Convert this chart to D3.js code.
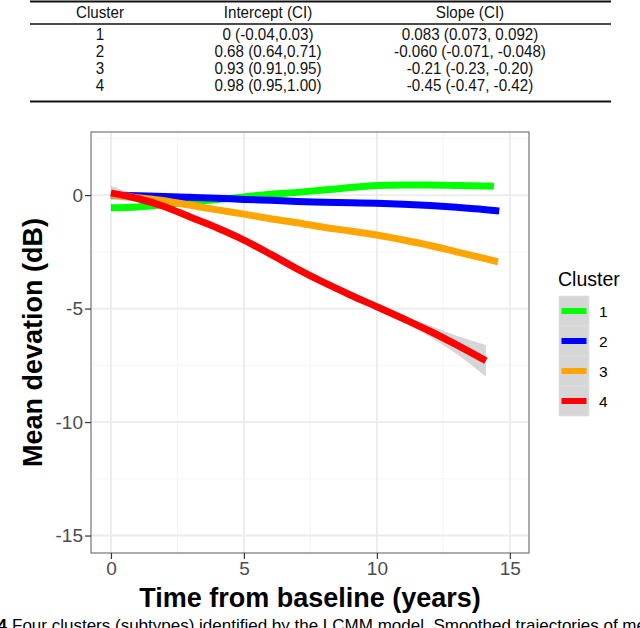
<!DOCTYPE html>
<html>
<head>
<meta charset="utf-8">
<script src="https://cdn.jsdelivr.net/npm/d3@7"></script>
<style>
  body { margin: 0; background: #fff; }
  svg text { font-family: "Liberation Sans", Arial, Helvetica, sans-serif; }
</style>
</head>
<body>
<div class="chart"></div>
<script>
// table values
var tableHeader = ["Cluster", "Intercept (CI)", "Slope (CI)"];
var tableCluster = ["1", "2", "3", "4"];
var tableIntercept = ["0 (-0.04,0.03)", "0.68 (0.64,0.71)", "0.93 (0.91,0.95)", "0.98 (0.95,1.00)"];
var tableSlope = ["0.083 (0.073, 0.092)", "-0.060 (-0.071, -0.048)", "-0.21 (-0.23, -0.20)", "-0.45 (-0.47, -0.42)"];

// smoothed trajectories (years, mean deviation dB, CI half width)
var time1 = [0, 1, 2, 3, 4, 5, 6, 7, 8, 9, 10, 11, 12, 13, 14, 14.4];
var md1 = [-0.56, -0.52, -0.42, -0.3, -0.2, -0.08, 0.04, 0.12, 0.22, 0.33, 0.42, 0.44, 0.44, 0.42, 0.4, 0.39];
var ci1 = [0.15, 0.08, 0.05, 0.04, 0.04, 0.04, 0.04, 0.04, 0.04, 0.04, 0.05, 0.05, 0.06, 0.07, 0.09, 0.1];

var time2 = [0, 1, 2, 3, 4, 5, 6, 7, 8, 9, 10, 11, 12, 13, 14, 14.6];
var md2 = [0, -0.03, -0.06, -0.1, -0.14, -0.19, -0.23, -0.28, -0.31, -0.34, -0.36, -0.4, -0.46, -0.54, -0.63, -0.7];
var ci2 = [0.12, 0.06, 0.04, 0.03, 0.03, 0.03, 0.03, 0.03, 0.03, 0.03, 0.04, 0.04, 0.05, 0.06, 0.08, 0.1];

var time3 = [0, 1, 2, 3, 4, 5, 6, 7, 8, 9, 10, 11, 12, 13, 14, 14.55];
var md3 = [0, -0.12, -0.25, -0.45, -0.65, -0.84, -1.04, -1.22, -1.42, -1.58, -1.76, -1.98, -2.22, -2.5, -2.78, -2.94];
var ci3 = [0.15, 0.07, 0.05, 0.04, 0.04, 0.04, 0.04, 0.04, 0.04, 0.05, 0.05, 0.06, 0.07, 0.09, 0.12, 0.15];

var time4 = [0, 1, 2, 3, 4, 5, 6, 7, 8, 9, 10, 11, 12, 13, 14.1];
var md4 = [0.1, -0.15, -0.5, -0.98, -1.45, -1.98, -2.6, -3.25, -3.85, -4.4, -4.92, -5.45, -6.0, -6.6, -7.3];
var ci4 = [0.3, 0.15, 0.08, 0.06, 0.05, 0.05, 0.05, 0.05, 0.06, 0.08, 0.1, 0.15, 0.25, 0.4, 0.7];

var clusterNames = ["1", "2", "3", "4"];
var clusterColors = ["#00ff00", "#0000ff", "#ffa500", "#ff0000"];

var xTicks = [0, 5, 10, 15];
var xMinor = [2.5, 7.5, 12.5];
var yTicks = [0, -5, -10, -15];
var yMinor = [2.5, -2.5, -7.5, -12.5];

var caption = "Four clusters (subtypes) identified by the LCMM model. Smoothed trajectories of mean deviation";

var svgWidth = 640;
var svgHeight = 628;

var svg = d3.select(".chart")
  .append("svg")
  .attr("width", svgWidth)
  .attr("height", svgHeight);

// ---- table ----
var tableLeft = 30, tableRight = 611;
var colX = [100, 268, 470];
var rowY = [34, 51, 68, 85];

function tableText(x, y, str) {
  svg.append("text")
    .attr("transform", `translate(${x}, ${y}) scale(0.92, 1)`)
    .attr("text-anchor", "middle")
    .attr("dy", "0.35em")
    .style("font-size", "16.5px")
    .attr("fill", "#111")
    .text(str);
}

svg.append("line").attr("x1", tableLeft).attr("x2", tableRight)
  .attr("y1", 1.5).attr("y2", 1.5).attr("stroke", "#111").attr("stroke-width", 2.2);
svg.append("line").attr("x1", tableLeft).attr("x2", tableRight)
  .attr("y1", 24).attr("y2", 24).attr("stroke", "#111").attr("stroke-width", 1.6);
svg.append("line").attr("x1", tableLeft).attr("x2", tableRight)
  .attr("y1", 101.5).attr("y2", 101.5).attr("stroke", "#111").attr("stroke-width", 2.2);

tableHeader.forEach(function(h, i) { tableText(colX[i], 12.5, h); });
tableCluster.forEach(function(c, i) {
  tableText(colX[0], rowY[i], c);
  tableText(colX[1], rowY[i], tableIntercept[i]);
  tableText(colX[2], rowY[i], tableSlope[i]);
});

// ---- plot panel ----
var panel = { left: 91, right: 529, top: 132, bottom: 553 };

var xScale = d3.scaleLinear()
  .domain([-0.75, 15.72])
  .range([panel.left, panel.right]);

var yScale = d3.scaleLinear()
  .domain([-15.77, 2.78])
  .range([panel.bottom, panel.top]);

var grid = svg.append("g");

grid.selectAll(".xminor").data(xMinor).enter().append("line")
  .attr("x1", d => xScale(d)).attr("x2", d => xScale(d))
  .attr("y1", panel.top).attr("y2", panel.bottom)
  .attr("stroke", "#f4f4f4").attr("stroke-width", 0.9);
grid.selectAll(".yminor").data(yMinor).enter().append("line")
  .attr("y1", d => yScale(d)).attr("y2", d => yScale(d))
  .attr("x1", panel.left).attr("x2", panel.right)
  .attr("stroke", "#f4f4f4").attr("stroke-width", 0.9);
grid.selectAll(".xmajor").data(xTicks).enter().append("line")
  .attr("x1", d => xScale(d)).attr("x2", d => xScale(d))
  .attr("y1", panel.top).attr("y2", panel.bottom)
  .attr("stroke", "#ebebeb").attr("stroke-width", 1.8);
grid.selectAll(".ymajor").data(yTicks).enter().append("line")
  .attr("y1", d => yScale(d)).attr("y2", d => yScale(d))
  .attr("x1", panel.left).attr("x2", panel.right)
  .attr("stroke", "#ebebeb").attr("stroke-width", 1.8);

// smooth curves + ribbons
var series = [
  { t: time1, md: md1, ci: ci1 },
  { t: time2, md: md2, ci: ci2 },
  { t: time3, md: md3, ci: ci3 },
  { t: time4, md: md4, ci: ci4 }
];

var plot = svg.append("g");

series.forEach(function(s, k) {
  var pts = s.t.map(function(t, i) { return { t: t, md: s.md[i], ci: s.ci[i] }; });

  var area = d3.area()
    .x(d => xScale(d.t))
    .y0(d => yScale(d.md - d.ci))
    .y1(d => yScale(d.md + d.ci))
    .curve(d3.curveMonotoneX);

  var line = d3.line()
    .x(d => xScale(d.t))
    .y(d => yScale(d.md))
    .curve(d3.curveMonotoneX);

  plot.append("path")
    .datum(pts)
    .attr("d", area)
    .attr("fill", "#999999")
    .attr("fill-opacity", 0.4);

  plot.append("path")
    .datum(pts)
    .attr("d", line)
    .attr("fill", "none")
    .attr("stroke", clusterColors[k])
    .attr("stroke-width", 7);
});

// panel border
svg.append("rect")
  .attr("x", panel.left).attr("y", panel.top)
  .attr("width", panel.right - panel.left)
  .attr("height", panel.bottom - panel.top)
  .attr("fill", "none")
  .attr("stroke", "#808080")
  .attr("stroke-width", 1.3);

// axes
var xAxis = d3.axisBottom(xScale).tickValues(xTicks).tickSize(6).tickPadding(3);
var yAxis = d3.axisLeft(yScale).tickValues(yTicks).tickSize(6).tickPadding(2)
  .tickFormat(d => d === 0 ? "0" : d3.format("d")(d).replace("\u2212", "-"));

var gx = svg.append("g")
  .attr("transform", `translate(0, ${panel.bottom})`)
  .call(xAxis);
var gy = svg.append("g")
  .attr("transform", `translate(${panel.left}, 0)`)
  .call(yAxis);

[gx, gy].forEach(function(g) {
  g.select(".domain").remove();
  g.selectAll(".tick line").attr("stroke", "#333333").attr("stroke-width", 1.2);
  g.selectAll(".tick text")
    .attr("fill", "#4d4d4d")
    .style("font-size", "19px")
    .style("font-family", "'Liberation Sans', Arial, sans-serif");
});

// axis titles
svg.append("text")
  .attr("x", (panel.left + panel.right) / 2)
  .attr("y", 607)
  .attr("text-anchor", "middle")
  .style("font-size", "27px")
  .style("font-weight", "bold")
  .text("Time from baseline (years)");

svg.append("text")
  .attr("transform", `translate(42, ${(panel.top + panel.bottom) / 2}) rotate(-90)`)
  .attr("text-anchor", "middle")
  .style("font-size", "27px")
  .style("font-weight", "bold")
  .text("Mean devation (dB)");

// legend
var legend = svg.append("g");
legend.append("text")
  .attr("x", 558).attr("y", 286)
  .style("font-size", "19.5px")
  .text("Cluster");

clusterNames.forEach(function(name, i) {
  var ky = 296 + i * 30;
  legend.append("rect")
    .attr("x", 559).attr("y", ky)
    .attr("width", 30).attr("height", 30)
    .attr("fill", "#d6d6d6")
    .attr("stroke", "#e2e2e2").attr("stroke-width", 0.6);
  legend.append("line")
    .attr("x1", 561.5).attr("x2", 586.5)
    .attr("y1", ky + 15).attr("y2", ky + 15)
    .attr("stroke", clusterColors[i])
    .attr("stroke-width", 6);
  legend.append("text")
    .attr("x", 599).attr("y", ky + 15)
    .attr("dy", "0.36em")
    .style("font-size", "15.5px")
    .text(name);
});

// figure caption, cut off at the bottom edge as in the source figure
svg.append("text")
  .attr("x", 7).attr("y", 631)
  .attr("text-anchor", "end")
  .style("font-size", "17px")
  .style("font-weight", "bold")
  .text("Fig. 4");
svg.append("text")
  .attr("x", 12).attr("y", 631)
  .style("font-size", "17px")
  .text(caption);
</script>
</body>
</html>
